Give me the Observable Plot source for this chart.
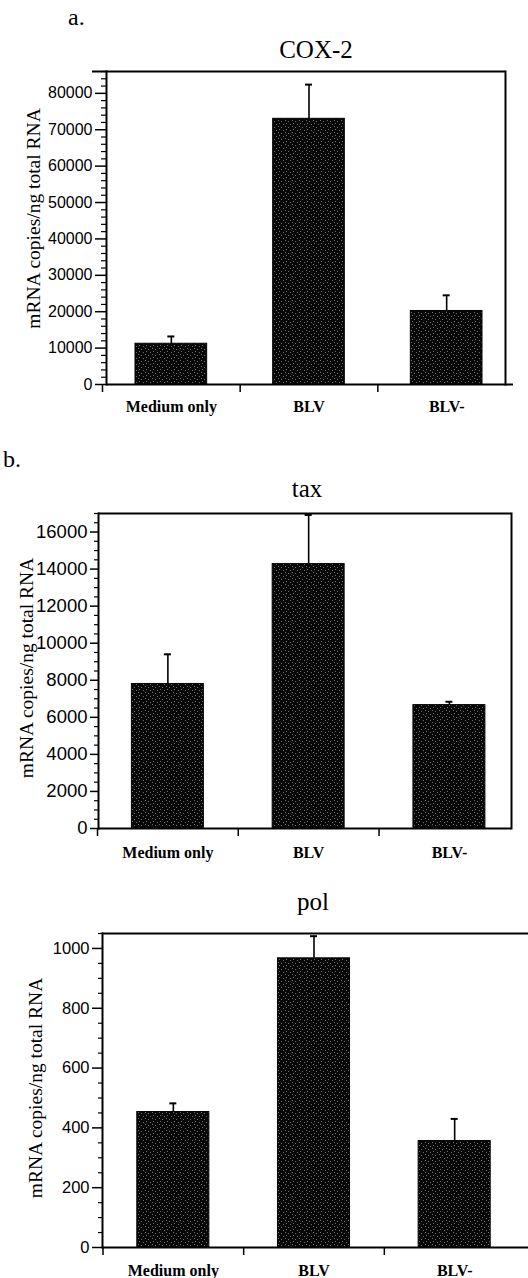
<!DOCTYPE html>
<html><head><meta charset="utf-8">
<script src="https://cdn.jsdelivr.net/npm/d3@7"></script>
<script src="https://cdn.jsdelivr.net/npm/@observablehq/plot@0.6"></script>
<style>
html,body{margin:0;padding:0;background:#fff;}
body{width:528px;height:1278px;position:relative;overflow:hidden;}
.t{position:absolute;font-family:"Liberation Serif","Times New Roman",serif;line-height:1;white-space:nowrap;color:#000;}
.panel{position:absolute;left:0;}
</style></head><body>
<div class="t" style="left:68px;top:5px;font-size:24px">a.</div>
<div class="t" id="titleA" style="left:0;width:632px;text-align:center;top:37px;font-size:25px"></div>
<div class="t" style="left:3px;top:447px;font-size:24px">b.</div>
<div class="t" id="titleB" style="left:0;width:614px;text-align:center;top:476px;font-size:25px"></div>
<div class="t" id="titleC" style="left:0;width:626px;text-align:center;top:889px;font-size:25px"></div>
<div class="panel" id="pa" style="top:60px"></div>
<div class="panel" id="pb" style="top:500px"></div>
<div class="panel" id="pc" style="top:920px"></div>
<script>
// ---- data ----
const categories = ["Medium only", "BLV", "BLV-"];
const yLabel = "mRNA copies/ng total RNA";
const titles = ["COX-2", "tax", "pol"];

const coxMeans = [11200, 73000, 20200];
const coxErrors = [2000, 9400, 4300];

const taxMeans = [7800, 14270, 6660];
const taxErrors = [1600, 2650, 180];

const polMeans = [453, 967, 356];
const polErrors = [29, 74, 74];

document.getElementById("titleA").textContent = titles[0];
document.getElementById("titleB").textContent = titles[1];
document.getElementById("titleC").textContent = titles[2];

function speckle(id) {
  return () => {
    const ns = "http://www.w3.org/2000/svg";
    const defs = document.createElementNS(ns, "defs");
    const pat = document.createElementNS(ns, "pattern");
    pat.setAttribute("id", id);
    pat.setAttribute("width", 7);
    pat.setAttribute("height", 6);
    pat.setAttribute("patternUnits", "userSpaceOnUse");
    const bg = document.createElementNS(ns, "rect");
    bg.setAttribute("width", 7); bg.setAttribute("height", 6); bg.setAttribute("fill", "#080808");
    pat.appendChild(bg);
    for (const [px, py] of [[1,1],[5,0],[3,4],[6,3]]) {
      const r = document.createElementNS(ns, "rect");
      r.setAttribute("x", px); r.setAttribute("y", py);
      r.setAttribute("width", 1); r.setAttribute("height", 1);
      r.setAttribute("fill", "#6e6e6e");
      pat.appendChild(r);
    }
    defs.appendChild(pat);
    return defs;
  };
}

function panel(cfg) {
  const rows = categories.map((c, i) => ({i, cat: c, mean: cfg.means[i], top: cfg.means[i] + cfg.errors[i]}));
  const major = d3.range(0, cfg.yMax + 1e-9, cfg.major);
  const minor = d3.range(0, cfg.yMax + 1e-9, cfg.minor).filter(v => Math.abs(v / cfg.major - Math.round(v / cfg.major)) > 1e-6);
  const marks = [
    speckle(cfg.id),
    Plot.rectY(rows, {x1: "i", x2: d => d.i + 1, y1: 0, y2: "mean", insetLeft: cfg.inset, insetRight: cfg.inset,
      fill: `url(#${cfg.id})`, stroke: "#000", strokeWidth: 1}),
    Plot.ruleX(rows, {x: d => d.i + 0.5, y1: "mean", y2: "top", stroke: "#000", strokeWidth: 1.6}),
    Plot.ruleY(rows, {y: "top", x1: d => d.i + 0.5, x2: d => d.i + 0.5, insetLeft: -3.5, insetRight: -3.5, stroke: "#000", strokeWidth: 2}),
    Plot.axisY({ticks: major, tickSize: cfg.tickSize, tickPadding: 3, tickFormat: d => String(d), label: null,
      fontSize: cfg.tickFont, fontFamily: "Liberation Sans, Arial, sans-serif", strokeWidth: 1.5}),
    Plot.axisY({ticks: minor, tickSize: cfg.minorSize, tickFormat: () => "", label: null, strokeWidth: 1.2}),
    Plot.axisX({ticks: [0, 1, 2], tickSize: 8, tickFormat: () => "", label: null, strokeWidth: 1.5}),
    Plot.axisX({ticks: [0.5, 1.5, 2.5], tickSize: 0, tickPadding: cfg.labelPad, tickFormat: d => categories[Math.floor(d)], label: null,
      fontSize: 16, fontWeight: "bold", fontFamily: "Liberation Serif, Times New Roman, serif"}),
    Plot.frame({anchor: "left", stroke: "#000", strokeWidth: 2}),
    Plot.ruleY([0], {insetRight: cfg.bottomExt, stroke: "#000", strokeWidth: 2}),
    Plot.ruleY([cfg.yMax], {insetLeft: cfg.topExt, stroke: "#000", strokeWidth: 1.8}),
    Plot.text([yLabel], {frameAnchor: "left", textAnchor: "middle", lineAnchor: "middle", rotate: -90, dx: cfg.labelDx, dy: cfg.labelDy,
      fontSize: 19.5, fontFamily: "Liberation Serif, Times New Roman, serif", fill: "#000"})
  ];
  if (cfg.right) marks.push(Plot.frame({anchor: "right", stroke: "#000", strokeWidth: 2}));
  const chart = Plot.plot({
    width: 528, height: cfg.height,
    marginTop: cfg.mt, marginBottom: cfg.mb, marginLeft: cfg.ml, marginRight: cfg.mr,
    x: {domain: [0, 3], range: cfg.xRange},
    y: {domain: [0, cfg.yMax]},
    style: {background: "transparent", color: "#000", overflow: "visible"},
    marks
  });
  document.getElementById(cfg.el).appendChild(chart);
}

panel({el: "pa", id: "spA", means: coxMeans, errors: coxErrors, height: 365, mt: 11, mb: 41, ml: 106, mr: 23,
  xRange: [102, 515], yMax: 86000, major: 10000, minor: 2000, tickSize: 11, minorSize: 5, tickFont: 16,
  inset: 33, labelPad: 16, bottomExt: -8, topExt: -14, labelDx: -73, labelDy: -9.5, right: true});

panel({el: "pb", id: "spB", means: taxMeans, errors: taxErrors, height: 370, mt: 13, mb: 42, ml: 98, mr: 17,
  xRange: [97, 519.3], yMax: 17000, major: 2000, minor: 500, tickSize: 8, minorSize: 4, tickFont: 18.5,
  inset: 34.4, labelPad: 18, bottomExt: 0, topExt: 0, labelDx: -72, labelDy: -3, right: true});

panel({el: "pc", id: "spC", means: polMeans, errors: polErrors, height: 358, mt: 13, mb: 31, ml: 102, mr: 0,
  xRange: [102.5, 524.5], yMax: 1050, major: 200, minor: 50, tickSize: 10, minorSize: 4, tickFont: 16.5,
  inset: 34.3, labelPad: 17, bottomExt: 0, topExt: 0, labelDx: -67, labelDy: -2.5, right: false});
</script>
</body></html>
